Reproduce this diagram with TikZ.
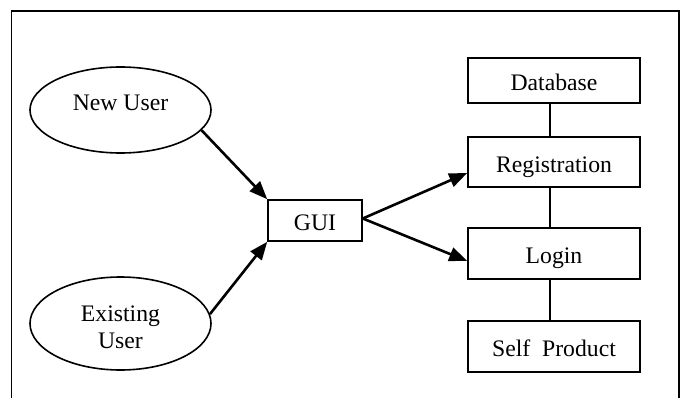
\documentclass[tikz,border=0pt]{standalone}
\usepackage{fontspec}
\setmainfont{Liberation Serif}
\usetikzlibrary{arrows.meta,shapes.geometric}
\begin{document}
\begin{tikzpicture}[x=1pt,y=-1pt,
  every node/.style={font=\fontsize{23.7}{27}\selectfont, inner sep=0pt},
  oval/.style={ellipse, draw, line width=1.6pt, minimum width=181pt, align=center},
  box/.style={rectangle, draw, line width=1.6pt, minimum width=172pt, text height=20pt, text depth=0pt},
  arr/.style={line width=2.6pt, -{Triangle[length=18pt,width=14pt]}},
  link/.style={line width=1.6pt}]
\useasboundingbox (0,0) rectangle (682,398);
\draw[line width=1.8pt] (11.5,398) -- (11.5,11) -- (679,11) -- (679,398);
\node[oval, minimum height=86pt, text height=10pt, text depth=8pt] (nu) at (120.5,110) {New User};
\node[oval, minimum height=93pt] (eu) at (120.5,323.5) {\raisebox{2.5pt}[0pt][0pt]{\begin{tabular}[t]{@{}c@{}}Existing\\User\end{tabular}}};
\node[box, minimum width=94pt, minimum height=41pt] (gui) at (315,220.5) {GUI};
\node[box, minimum height=45pt] (db) at (554,80.5) {Database};
\node[box, minimum height=50pt] (reg) at (554,162) {Registration};
\node[box, minimum height=51pt] (log) at (554,253.5) {Login};
\node[box, minimum height=51pt] (sp) at (554,346.5) {Self\ \ Product};
\draw[arr] (nu.-14) -- (gui.north west);
\draw[arr] (eu.6) -- (gui.south west);
\draw[arr] ([yshift=2pt]gui.east) -- ([yshift=-11pt]reg.west);
\draw[arr] ([yshift=2pt]gui.east) -- ([yshift=-7.5pt]log.west);
\draw[link] ([xshift=-4pt]db.south) -- ([xshift=-4pt]reg.north);
\draw[link] ([xshift=-4pt]reg.south) -- ([xshift=-4pt]log.north);
\draw[link] ([xshift=-4pt]log.south) -- ([xshift=-4pt]sp.north);
\end{tikzpicture}
\end{document}
